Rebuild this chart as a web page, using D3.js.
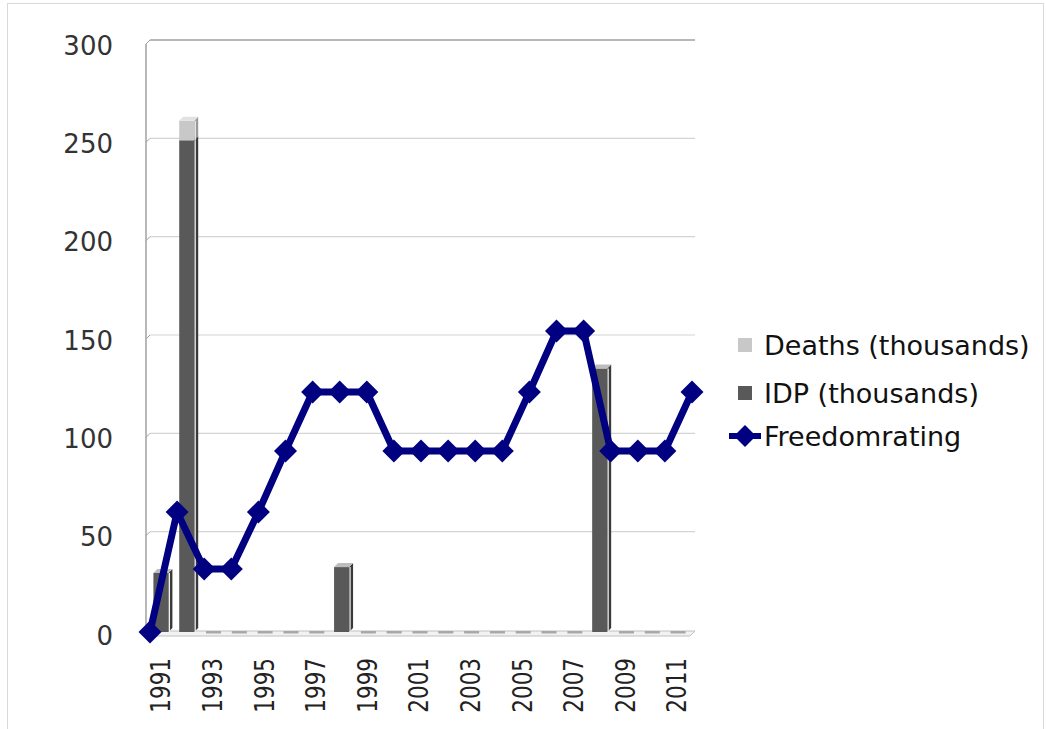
<!DOCTYPE html>
<html>
<head>
<meta charset="utf-8">
<script src="https://cdn.jsdelivr.net/npm/d3@7"></script>
<style>
  html, body { margin: 0; padding: 0; background: #fff; }
  svg { display: block; }
  text { font-family: "DejaVu Sans", Verdana, sans-serif; }
</style>
</head>
<body>
<svg id="chart" width="1046" height="729"></svg>
<script>
// Categories and series
const years = ["1991","1992","1993","1994","1995","1996","1997","1998","1999","2000",
               "2001","2002","2003","2004","2005","2006","2007","2008","2009","2010","2011"];
const idp    = [30, 250, 0, 0, 0, 0, 0, 33, 0, 0, 0, 0, 0, 0, 0, 0, 0, 134, 0, 0, 0];
const deaths = [0, 10, 0, 0, 0, 0, 0, 0, 0, 0, 0, 0, 0, 0, 0, 0, 0, 0, 0, 0, 0];
const freedom = [0, 61, 32, 32, 61, 92, 122, 122, 122, 92, 92, 92, 92, 92, 122, 153, 153, 92, 92, 92, 122];
const yTicks = [0, 50, 100, 150, 200, 250, 300];
const xTickLabels = ["1991","1993","1995","1997","1999","2001","2003","2005","2007","2009","2011"];
const legendItems = ["Deaths (thousands)", "IDP (thousands)", "Freedomrating"];

const svg = d3.select("#chart");

// outer frame
svg.append("rect").attr("x", 7.5).attr("y", 3.5).attr("width", 1036).attr("height", 740)
  .attr("fill", "none").attr("stroke", "#d9d9d9").attr("stroke-width", 1);

const left = 150, right = 692;
const y = d3.scaleLinear().domain([0, 300]).range([632, 42]);
const x = d3.scaleBand().domain(years).range([left, right]).paddingInner(0).paddingOuter(0);
// line points sit on the band edges, spanning the full plot width
const xp = d3.scalePoint().domain(years).range([left, right]).padding(0);

// back-wall gridlines with small perspective joins to the value axis
const grid = svg.append("g");
yTicks.forEach(v => {
  const gy = y(v) - 2;
  if (v > 0) {
    grid.append("line").attr("x1", 150).attr("x2", 695).attr("y1", gy).attr("y2", gy)
      .attr("stroke", v === 300 ? "#b8b8b8" : "#d4d4d4").attr("stroke-width", v === 300 ? 2 : 1.2);
  }
  grid.append("line").attr("x1", 146).attr("x2", 150).attr("y1", gy + 4).attr("y2", gy)
    .attr("stroke", "#a0a0a0").attr("stroke-width", 1);
});

// value axis
svg.append("line").attr("x1", 146).attr("x2", 146).attr("y1", y(300) + 2).attr("y2", 634)
  .attr("stroke", "#a0a0a0").attr("stroke-width", 1.5);

const yAxis = d3.axisLeft(y).tickValues(yTicks).tickSize(0).tickPadding(0);
const ya = svg.append("g").attr("transform", "translate(113,4)").call(yAxis);
ya.select(".domain").remove();
ya.selectAll("text").attr("font-size", 26).attr("fill", "#333")
  .attr("font-family", "DejaVu Sans, Verdana, sans-serif");

// floor
svg.append("path")
  .attr("d", `M146,636 L690,636 L695,631 L150,631 Z`)
  .attr("fill", "#f2f2f2").attr("stroke", "#c0c0c0").attr("stroke-width", 1);

// bars with a bevelled 3D look
const barW = 15, sideW = 4, topH = 4;
const barG = svg.append("g");
function box(xl, y0, y1, front, side, top) {
  barG.append("rect").attr("x", xl).attr("y", y1).attr("width", barW).attr("height", Math.max(0, y0 - y1))
    .attr("fill", front);
  barG.append("path")
    .attr("d", `M${xl + barW},${y1} L${xl + barW + sideW},${y1 - topH} L${xl + barW + sideW},${y0 - topH} L${xl + barW},${y0} Z`)
    .attr("fill", side);
  barG.append("line").attr("x1", xl + barW + 1).attr("x2", xl + barW + 1).attr("y1", y1).attr("y2", y0)
    .attr("stroke", "#f4f4f4").attr("stroke-width", 1.2);
  barG.append("path")
    .attr("d", `M${xl},${y1} L${xl + sideW},${y1 - topH} L${xl + barW + sideW},${y1 - topH} L${xl + barW},${y1} Z`)
    .attr("fill", top);
}
years.forEach((yr, i) => {
  const cx = x(yr) + x.bandwidth() / 2;
  const xl = cx - barW / 2 - 2;
  const base = y(0);
  const total = idp[i] + deaths[i];
  if (total === 0) {
    barG.append("rect").attr("x", xl + 1).attr("y", base - 1).attr("width", barW).attr("height", 2.5)
      .attr("fill", "#a8a8a8");
    return;
  }
  if (idp[i] > 0) box(xl, base, y(idp[i]), "#595959", "#3a3a3a", deaths[i] > 0 ? "#595959" : "#bdbdbd");
  if (deaths[i] > 0) box(xl, y(idp[i]), y(total), "#c8c8c8", "#9a9a9a", "#e2e2e2");
});

// Freedom rating line
const lineGen = d3.line().x((d, i) => xp(years[i])).y(d => y(d));
svg.append("path").datum(freedom).attr("d", lineGen)
  .attr("fill", "none").attr("stroke", "#000080").attr("stroke-width", 7)
  .attr("stroke-linejoin", "round");
const diamond = (cx, cy, r) => `M${cx},${cy - r} L${cx + r},${cy} L${cx},${cy + r} L${cx - r},${cy} Z`;
svg.append("g").selectAll("path").data(freedom).join("path")
  .attr("d", (d, i) => diamond(xp(years[i]), y(d), 11.5))
  .attr("fill", "#000080");

// category axis labels (every second year), rotated
const xa = svg.append("g");
xTickLabels.forEach(lbl => {
  const cx = x(lbl) + x.bandwidth() / 2 - 2;
  xa.append("text").attr("transform", `translate(${cx},658) rotate(-90) scale(1,1.25)`)
    .attr("text-anchor", "end").attr("dominant-baseline", "central")
    .attr("font-size", 21.5).attr("fill", "#222").text(lbl);
});

// legend
const lg = svg.append("g");
lg.append("rect").attr("x", 738).attr("y", 338).attr("width", 14).attr("height", 14).attr("fill", "#c8c8c8");
lg.append("rect").attr("x", 738).attr("y", 386).attr("width", 14).attr("height", 14).attr("fill", "#595959");
lg.append("line").attr("x1", 729).attr("x2", 761).attr("y1", 436).attr("y2", 436)
  .attr("stroke", "#000080").attr("stroke-width", 6);
lg.append("path").attr("d", diamond(745, 436, 11)).attr("fill", "#000080");
[[legendItems[0], 345], [legendItems[1], 393], [legendItems[2], 436]].forEach(([t, ty]) => {
  lg.append("text").attr("x", 764).attr("y", ty).attr("dominant-baseline", "central")
    .attr("font-size", 27).attr("fill", "#111").text(t);
});
</script>
</body>
</html>
